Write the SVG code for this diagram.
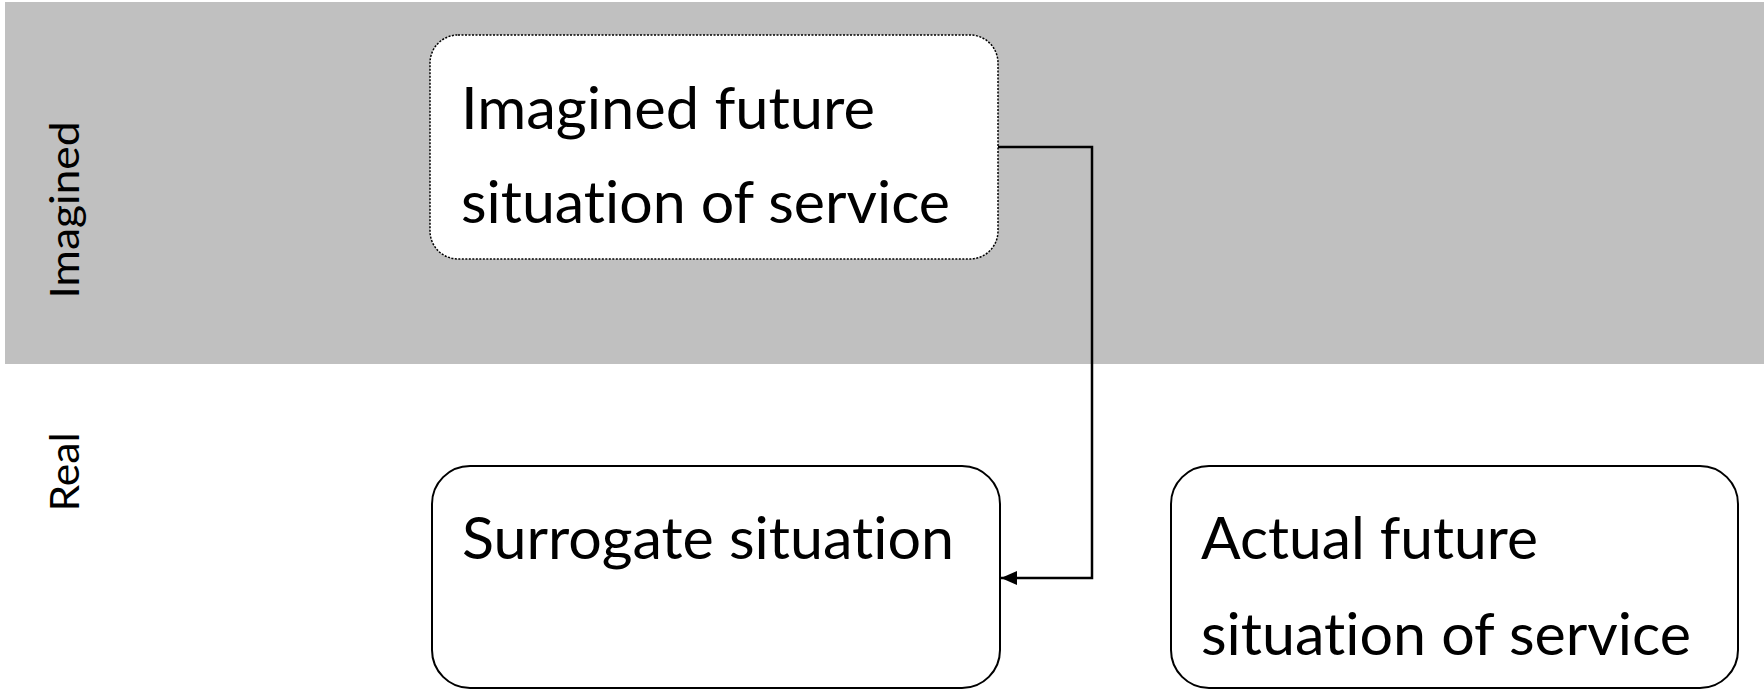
<svg xmlns="http://www.w3.org/2000/svg" width="1764" height="692" viewBox="0 0 1764 692">
<style>
.box{fill:#ffffff;stroke:#000000;stroke-width:2}
.dot{stroke-width:1.5;stroke-dasharray:2 1.5}
.t{font-family:Lato,"Open Sans","Liberation Sans",sans-serif;font-size:58px;fill:#000000;font-variant-ligatures:none}
.side{font-family:Lato,"Open Sans","Liberation Sans",sans-serif;font-size:41px;fill:#000000;text-anchor:middle;font-variant-ligatures:none}
.conn{fill:none;stroke:#000000;stroke-width:2.5}
</style>
<defs>
<marker id="arr" viewBox="0 0 16 14" refX="16" refY="7" markerWidth="16" markerHeight="14" orient="auto" markerUnits="userSpaceOnUse">
<path d="M0,0 L16,7 L0,14 z" fill="#000000"/>
</marker>
</defs>
<rect x="5" y="2" width="1759" height="362" fill="#c0c0c0"/>
<text class="side" transform="translate(79,210) rotate(-90)" textLength="177" lengthAdjust="spacingAndGlyphs">Imagined</text>
<text class="side" transform="translate(79,472) rotate(-90)" textLength="79" lengthAdjust="spacingAndGlyphs">Real</text>
<g id="connectors">
<path class="conn" d="M998,147 H1092 V578 H1001" marker-end="url(#arr)"/>
</g>
<g id="imagined-future">
<rect class="box dot" x="430" y="35" width="568" height="224" rx="28" ry="28"/>
<text class="t" x="461" y="129" textLength="414" lengthAdjust="spacingAndGlyphs">Imagined future</text>
<text class="t" x="461" y="223" textLength="489" lengthAdjust="spacingAndGlyphs">situation of service</text>
</g>
<g id="surrogate">
<rect class="box" x="432" y="466" width="568" height="222" rx="38" ry="38"/>
<text class="t" x="462" y="559" textLength="492" lengthAdjust="spacingAndGlyphs">Surrogate situation</text>
</g>
<g id="actual-future">
<rect class="box" x="1171" y="466" width="567" height="222" rx="38" ry="38"/>
<text class="t" x="1201" y="559" textLength="337" lengthAdjust="spacingAndGlyphs">Actual future</text>
<text class="t" x="1201" y="655" textLength="490" lengthAdjust="spacingAndGlyphs">situation of service</text>
</g>
</svg>
